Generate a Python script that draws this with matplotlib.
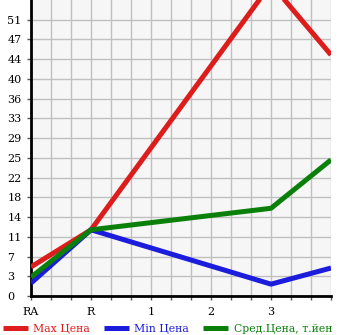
import matplotlib.pyplot as plt
from matplotlib.ticker import MultipleLocator
import numpy as np

# x positions of the year labels (last position has no label)
x_labels = ['RA', 'R', '1', '2', '3']
x_points = [0, 1, 4, 5]

max_price = [5.4, 12.3, 58.0, 44.8]
min_price = [2.4, 12.3, 2.2, 5.2]
avg_price = [3.5, 12.3, 16.3, 25.3]

y_max = 55
y_step = 55 / 15

plt.rcParams['font.family'] = ['DejaVu Serif']

fig = plt.figure(figsize=(3.45, 3.35), dpi=100)
ax = fig.add_axes([31 / 345, 1 - 296 / 335, 300 / 345, 296 / 335])
ax.set_facecolor('#f6f6f6')

ax.plot(x_points, max_price, color='#dd1c1c', lw=3.6, label='Max Цена', solid_capstyle='butt', zorder=3)
ax.plot(x_points, min_price, color='#1c1cdd', lw=3.6, label='Min Цена', solid_capstyle='butt', zorder=3)
ax.plot(x_points, avg_price, color='#0a800a', lw=3.6, label='Сред.Цена, т.йен', solid_capstyle='butt', zorder=3)

ax.set_xlim(0, 5)
ax.set_ylim(0, y_max)

ax.set_xticks(range(len(x_labels)))
ax.set_xticklabels(x_labels)
ax.xaxis.set_minor_locator(MultipleLocator(1 / 3))
yt = np.arange(0, 15) * y_step
ax.set_yticks(yt)
ax.set_yticklabels([str(int(v + 1e-9)) for v in yt])

ax.grid(True, which='both', color='#c0c0c0', lw=1)
ax.set_axisbelow(True)
for s in ['top', 'right']:
    ax.spines[s].set_visible(False)
for s in ['left', 'bottom']:
    ax.spines[s].set_linewidth(2)
    ax.spines[s].set_color('black')

ax.tick_params(axis='both', which='major', labelsize=8, length=3, width=1, color='#555555')
ax.tick_params(axis='x', which='minor', length=3, width=1, color='#555555')
ax.tick_params(axis='x', pad=5)
ax.tick_params(axis='y', pad=14)
for lbl in ax.get_yticklabels():
    lbl.set_horizontalalignment('left')

fig.legend(loc='lower left', bbox_to_anchor=(-0.02, -0.025), ncol=3, frameon=False,
           fontsize=7.8, labelcolor='linecolor', handlelength=2.3, columnspacing=1.3,
           handletextpad=0.5)

fig.savefig('out.png', dpi=100)
